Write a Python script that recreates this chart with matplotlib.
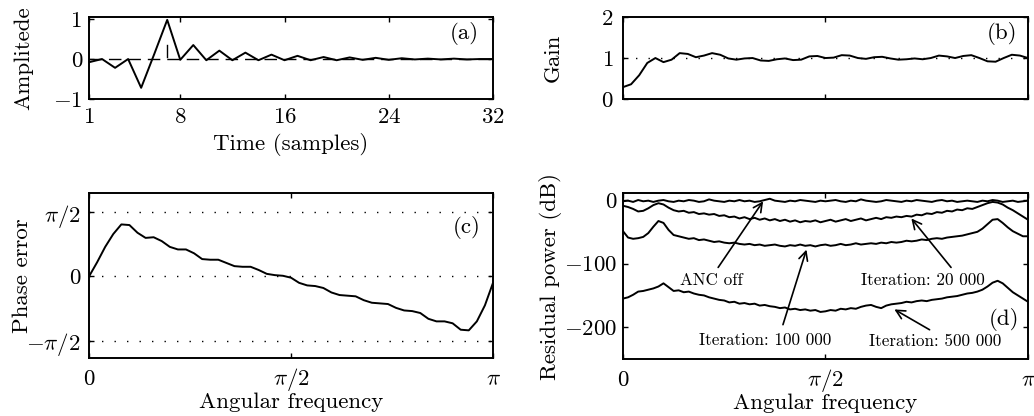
import numpy as np
import matplotlib
matplotlib.use("Agg")
import matplotlib.pyplot as plt

plt.rcParams['font.family'] = 'serif'
plt.rcParams['font.serif'] = ['cmr10']
plt.rcParams['mathtext.fontset'] = 'cm'
plt.rcParams['axes.formatter.use_mathtext'] = True
plt.rcParams['axes.unicode_minus'] = True

# ---------------- data ----------------
# (a) impulse response
samples = list(range(1, 33))
impulse = [-0.08, 0.0, -0.22, 0.0, -0.72, 0.12, 0.98, -0.02, 0.35, -0.03, 0.21, -0.03,
           0.16, -0.03, 0.11, -0.03, 0.08, -0.03, 0.05, -0.03, 0.04, -0.02, 0.03, -0.02,
           0.02, -0.01, 0.01, -0.01, 0.01, -0.01, 0.0, 0.0]
delay_sample = 7
delay_mark = [0.05, 0.35]

# (b) gain vs angular frequency (0..pi)
gain = [0.29, 0.36, 0.58, 0.88, 1.0, 0.9, 0.96, 1.12, 1.1, 1.02, 1.06, 1.12, 1.08,
        0.99, 0.96, 0.99, 1.0, 0.94, 0.93, 0.97, 0.99, 0.95, 0.96, 1.04, 1.05, 1.0,
        1.01, 1.07, 1.06, 1.0, 0.98, 1.02, 1.03, 0.99, 0.96, 0.97, 0.99, 0.97, 1.0,
        1.06, 1.04, 1.0, 1.05, 1.07, 1.0, 0.92, 0.91, 1.0, 1.08, 1.06, 1.0]

# (c) phase error in units of pi/2
phase_half_pi = [0.0, 0.22, 0.46, 0.66, 0.81, 0.8, 0.68, 0.6, 0.61, 0.55, 0.46, 0.42,
                 0.42, 0.36, 0.27, 0.26, 0.26, 0.21, 0.16, 0.15, 0.15, 0.1, 0.04, 0.02,
                 0.01, -0.02, -0.1, -0.14, -0.15, -0.18, -0.25, -0.29, -0.3, -0.31,
                 -0.37, -0.41, -0.42, -0.43, -0.49, -0.53, -0.54, -0.57, -0.66, -0.7,
                 -0.7, -0.73, -0.83, -0.84, -0.7, -0.45, -0.1]

# (d) residual power (dB)
anc_off = [-2, -1, -3, 0, -2, -1, -3, -1, 0, -2, -3, -1, -2, 0, -1, -3, -2, 1, -1, -2,
           -3, -1, -2, 0, -2, -1, -3, -2, 0, 2, -1, -2, -3, -1, -2, 0, -1, -2, -3, -1,
           -2, -1, 0, -2, -3, -1, -2, 1, -1, -2, -3, -2, 0, -1, -2, -3, -1, -2, 0, -1,
           -2, -3, -1, 0, -2, -1, -3, -2, -1, -2, -3, -1, -2, 0, -1, -3, -2, -1, -3, -2, -1]
iter_20k = [-9, -11, -14, -18, -17, -13, -8, -5, -7, -12, -16, -18, -17, -20, -19, -22,
            -21, -23, -22, -25, -24, -27, -26, -29, -27, -30, -28, -31, -29, -32, -30,
            -33, -31, -34, -32, -35, -33, -34, -32, -35, -33, -31, -34, -32, -30, -33,
            -31, -29, -32, -30, -28, -30, -27, -28, -26, -27, -25, -26, -23, -24, -21,
            -22, -19, -20, -17, -18, -15, -16, -13, -14, -11, -8, -5, -3, -4, -7, -12,
            -16, -21, -26, -31]
iter_100k = [-49, -59, -61, -60, -58, -52, -42, -33, -36, -47, -55, -57, -59, -61, -60,
             -63, -62, -64, -66, -65, -67, -68, -67, -69, -70, -69, -71, -70, -72, -71,
             -70, -72, -73, -71, -72, -70, -72, -71, -73, -71, -70, -72, -71, -69, -71,
             -70, -68, -70, -69, -68, -69, -67, -68, -66, -67, -66, -64, -65, -64, -62,
             -63, -61, -60, -61, -59, -58, -57, -56, -54, -52, -50, -45, -38, -31, -30,
             -36, -43, -49, -53, -57, -57]
iter_500k = [-155, -153, -149, -144, -143, -141, -139, -136, -131, -137, -143, -142, -145,
             -144, -147, -149, -150, -153, -155, -157, -158, -161, -160, -163, -162, -164,
             -163, -166, -165, -167, -168, -170, -169, -172, -171, -173, -172, -174, -173,
             -176, -175, -173, -174, -171, -172, -170, -171, -168, -166, -165, -168, -170,
             -166, -164, -163, -162, -160, -161, -159, -158, -159, -157, -156, -155, -153,
             -152, -151, -149, -147, -146, -144, -141, -136, -130, -127, -131, -138, -145,
             -150, -155, -160]

# annotations: (label, text position (x/pi, dB), arrow tail (x/pi, dB), arrow head (x/pi, dB))
d_notes = [
    ("ANC off", (0.218, -126), (0.235, -106), (0.346, -2)),
    ("Iteration: 20 000", (0.741, -126), (0.81, -106), (0.712, -29)),
    ("Iteration: 100 000", (0.35, -221), (0.395, -196), (0.453, -78)),
    ("Iteration: 500 000", (0.77, -223), (0.757, -204), (0.67, -172)),
]

# ---------------- figure ----------------
fig = plt.figure(figsize=(10.34, 4.16), dpi=100)
FS = 16.5
ANN = 12.3

def style(ax):
    ax.tick_params(direction='in', top=True, right=True, length=3.5, width=1.0,
                   labelsize=FS)
    for s in ax.spines.values():
        s.set_linewidth(1.4)

def baseline_xticks(ax, pad):
    ax.tick_params(axis='x', pad=pad)
    for lab in ax.get_xticklabels():
        lab.set_va('baseline')

ax_a = fig.add_axes([0.0861, 0.762, 0.3907, 0.197])
ax_b = fig.add_axes([0.6025, 0.762, 0.3917, 0.197])
ax_c = fig.add_axes([0.0861, 0.139, 0.3907, 0.397])
ax_d = fig.add_axes([0.6025, 0.137, 0.3917, 0.399])

# (a)
ax_a.plot(samples, impulse, color='black', lw=1.4)
ax_a.axhline(0, color='black', lw=1.0, dashes=(9, 5))
ax_a.plot([delay_sample, delay_sample], delay_mark, color='black', lw=1.0)
ax_a.set_xlim(1, 32)
ax_a.set_ylim(-1, 1.05)
ax_a.set_xticks([1, 8, 16, 24, 32])
ax_a.set_yticks([-1, 0, 1])
ax_a.set_yticklabels(['$-1$', '0', '1'])
style(ax_a)
ax_a.tick_params(axis='x', pad=6)
ax_a.tick_params(axis='y', pad=5)
ax_a.set_xlabel('Time (samples)', fontsize=FS)
ax_a.xaxis.set_label_coords(0.5, -0.42)
ax_a.set_ylabel('Amplitede', fontsize=FS)
ax_a.yaxis.set_label_coords(-0.139, 0.5)
ax_a.text(0.93, 0.8, '(a)', transform=ax_a.transAxes, fontsize=FS, ha='center', va='center')

# (b)
w_b = np.linspace(0, np.pi, len(gain))
ax_b.plot(w_b, gain, color='black', lw=1.4)
ax_b.axhline(1, color='black', lw=1.0, dashes=(1, 8))
ax_b.set_xlim(0, np.pi)
ax_b.set_ylim(0, 2)
ax_b.set_xticks([0, np.pi / 2, np.pi])
ax_b.set_xticklabels([])
ax_b.set_yticks([0, 1, 2])
style(ax_b)
ax_b.tick_params(axis='y', pad=7)
ax_b.set_ylabel('Gain', fontsize=FS)
ax_b.yaxis.set_label_coords(-0.148, 0.5)
ax_b.text(0.936, 0.8, '(b)', transform=ax_b.transAxes, fontsize=FS, ha='center', va='center')

# (c)
w_c = np.linspace(0, np.pi, len(phase_half_pi))
ax_c.plot(w_c, np.array(phase_half_pi) * np.pi / 2, color='black', lw=1.4)
for yv in (-np.pi / 2, 0, np.pi / 2):
    ax_c.axhline(yv, color='black', lw=1.0, dashes=(1, 8))
ax_c.set_xlim(0, np.pi)
ax_c.set_ylim(-2.0, 2.04)
ax_c.set_xticks([0, np.pi / 2, np.pi])
ax_c.set_xticklabels(['0', r'$\pi/2$', r'$\pi$'])
ax_c.set_yticks([-np.pi / 2, 0, np.pi / 2])
ax_c.set_yticklabels([r'$-\pi/2$', '0', r'$\pi/2$'])
style(ax_c)
baseline_xticks(ax_c, 19.5)
ax_c.tick_params(axis='y', pad=6)
ax_c.set_xlabel('Angular frequency', fontsize=FS)
ax_c.xaxis.set_label_coords(0.5, -0.21)
ax_c.set_ylabel('Phase error', fontsize=FS)
ax_c.yaxis.set_label_coords(-0.141, 0.5)
ax_c.text(0.935, 0.79, '(c)', transform=ax_c.transAxes, fontsize=FS, ha='center', va='center')

# (d)
for series in (anc_off, iter_20k, iter_100k, iter_500k):
    w = np.linspace(0, np.pi, len(series))
    ax_d.plot(w, series, color='black', lw=1.4)
ax_d.set_xlim(0, np.pi)
ax_d.set_ylim(-250, 11)
ax_d.set_xticks([0, np.pi / 2, np.pi])
ax_d.set_xticklabels(['0', r'$\pi/2$', r'$\pi$'])
ax_d.set_yticks([-200, -100, 0])
ax_d.set_yticklabels(['$-200$', '$-100$', '0'])
style(ax_d)
baseline_xticks(ax_d, 19.5)
ax_d.tick_params(axis='y', pad=4.5)
ax_d.set_xlabel('Angular frequency', fontsize=FS)
ax_d.xaxis.set_label_coords(0.5, -0.21)
ax_d.set_ylabel('Residual power (dB)', fontsize=FS)
ax_d.yaxis.set_label_coords(-0.15, 0.5)
ax_d.text(0.94, -188, '(d)', transform=ax_d.get_yaxis_transform(), fontsize=FS,
          ha='center', va='center')
for label, tpos, tail, head in d_notes:
    ax_d.text(tpos[0] * np.pi, tpos[1], label, fontsize=ANN, ha='center', va='center')
    ax_d.annotate('', xy=(head[0] * np.pi, head[1]), xytext=(tail[0] * np.pi, tail[1]),
                  arrowprops=dict(arrowstyle='->', lw=1.2, color='black',
                                  shrinkA=0, shrinkB=0, mutation_scale=16))

fig.savefig('out.png', dpi=100)
